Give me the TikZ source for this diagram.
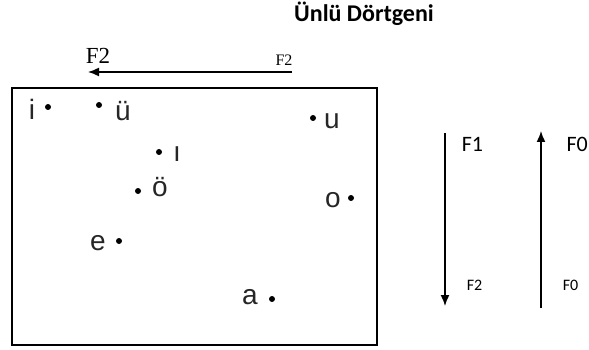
\documentclass[tikz,border=0pt]{standalone}
\usepackage{fontspec}
\usepackage{tikz}
\usetikzlibrary{arrows.meta}
\setmainfont{Liberation Sans}
\newfontfamily\calibri{Carlito}
\newfontfamily\romen{Liberation Serif}
\newcommand{\punto}[1]{\fontsize{#1}{#1}\selectfont}
\tikzstyle{cerceve}=[line width=2pt]
\tikzstyle{ok}=[line width=1.5pt,-{Latex[length=11pt,width=9pt]}]
\tikzstyle{harf}=[anchor=base,inner sep=0pt,text=black!85,font=\punto{28pt}]
\tikzstyle{nokta}=[circle,fill,inner sep=0pt,minimum size=6pt]
\tikzstyle{etiket}=[anchor=base,inner sep=0pt]

\begin{document}
\begin{tikzpicture}[x=1pt,y=-1pt]

\useasboundingbox (0,0) rectangle (589,350);

\node[etiket,font=\calibri\bfseries\punto{24pt}] (baslik) at (364,22) {Ünlü Dörtgeni};

% ses dortgeni
\draw[cerceve] (12,88) rectangle (377,345);

\foreach \ad/\h/\hx/\hy/\nx/\ny in {i/i/32/120/48/107, uu/ü/123/121/99/105, u/u/332/129/313/118, ii/ı/177/161/159/152, oo/ö/160/196/138/191, o/o/333/207/351/198, e/e/98/250/119/241, a/a/250/304/272/299}
{\node[harf] (h\ad) at (\hx,\hy) {\h};
\node[nokta] (n\ad) at (\nx,\ny) {};
}

% F2 oku
\node[etiket,font=\romen\punto{23pt}] (F2b) at (98,64) {F2};
\node[etiket,font=\romen\punto{16pt}] (F2k) at (284,66) {F2};
\coordinate (ok1s) at (292,72);
\coordinate (ok1e) at (88,72);
\draw[ok] (ok1s) -- (ok1e);

% F1 ve F0 oklari
\node[etiket,font=\calibri\punto{22pt}] (F1) at (472.5,151) {F1};
\node[etiket,font=\calibri\punto{16pt}] (F2s) at (474.5,290) {F2};
\coordinate (ok2s) at (445,133);
\coordinate (ok2e) at (445,306);
\draw[ok] (ok2s) -- (ok2e);

\node[etiket,anchor=base east,font=\calibri\punto{22pt}] (F0b) at (588,151) {F0};
\node[etiket,font=\calibri\punto{16pt}] (F0s) at (570.5,290) {F0};
\coordinate (ok3s) at (541,308);
\coordinate (ok3e) at (541,131);
\draw[ok] (ok3s) -- (ok3e);

\end{tikzpicture}
\end{document}
